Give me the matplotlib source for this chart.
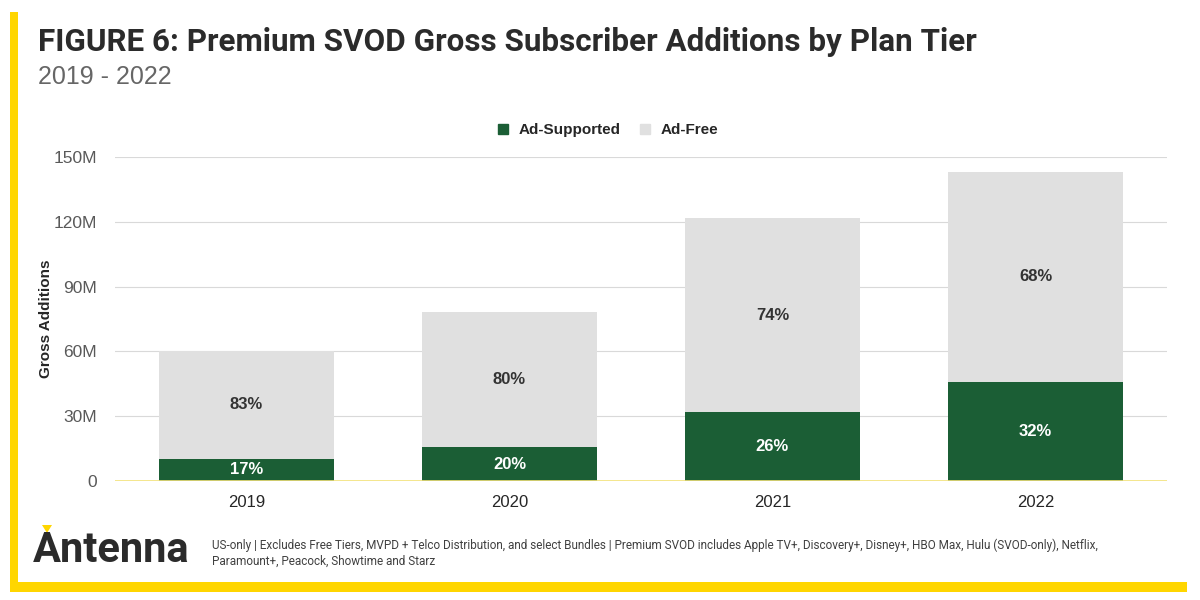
import matplotlib
matplotlib.use("Agg")
import matplotlib.pyplot as plt
from matplotlib.patches import Rectangle, Polygon
from matplotlib.lines import Line2D
from matplotlib import font_manager

# ---- data ----
years = ["2019", "2020", "2021", "2022"]
ad_supported = [10.2, 15.7, 31.8, 45.8]   # millions
ad_free = [50.0, 62.5, 90.0, 97.3]        # millions
ad_supported_pct = ["17%", "20%", "26%", "32%"]
ad_free_pct = ["83%", "80%", "74%", "68%"]
yticks = [0, 30, 60, 90, 120, 150]
ytick_labels = ["0", "30M", "60M", "90M", "120M", "150M"]

GREEN = "#1b5e35"
GRAY = "#e0e0e0"
YELLOW = "#ffd600"
DARK = "#262626"

names = {f.name for f in font_manager.fontManager.ttflist}
narrow = "Liberation Sans Narrow" if "Liberation Sans Narrow" in names else "Roboto"
plt.rcParams["font.family"] = ["Liberation Sans", "DejaVu Sans"]

fig = plt.figure(figsize=(12, 6), dpi=100)
fig.patch.set_facecolor("white")

# frame accents
fig.add_artist(Rectangle((10 / 1200, 1 - 592 / 600), 8 / 1200, 580 / 600,
                         transform=fig.transFigure, color=YELLOW, lw=0))
fig.add_artist(Rectangle((10 / 1200, 1 - 592 / 600), 1177 / 1200, 10 / 600,
                         transform=fig.transFigure, color=YELLOW, lw=0))

ax = fig.add_axes([115 / 1200, 1 - 481 / 600, 1052 / 1200, 324 / 600])
x = list(range(len(years)))
w = 0.665
ax.bar(x, ad_supported, width=w, color=GREEN, zorder=3, label="Ad-Supported")
ax.bar(x, ad_free, width=w, bottom=ad_supported, color=GRAY, zorder=3, label="Ad-Free")

for i in x:
    ax.text(i, ad_supported[i] / 2, ad_supported_pct[i], ha="center", va="center",
            color="white", fontsize=12, fontweight="bold", zorder=4)
    ax.text(i, ad_supported[i] + ad_free[i] / 2, ad_free_pct[i], ha="center",
            va="center", color="#333333", fontsize=12, fontweight="bold", zorder=4)

ax.set_xlim(-0.5, 3.5)
ax.set_ylim(0, 150)
ax.set_yticks(yticks)
ax.set_yticklabels(ytick_labels, fontsize=12.5, color="#595959")
ax.set_xticks(x)
ax.set_xticklabels(years, fontsize=12, color=DARK)
ax.tick_params(axis="both", length=0)
ax.tick_params(axis="y", pad=13)
ax.tick_params(axis="x", pad=10)
ax.grid(axis="y", color="#d9d9d9", lw=0.8, zorder=0)
for s in ax.spines.values():
    s.set_visible(False)
ax.axhline(0, color="#f3e27a", lw=1.2, zorder=5)
ax.set_ylabel("Gross Additions", fontsize=11, fontweight="bold", color=DARK)
ax.yaxis.set_label_coords(-0.059, 0.5)

handles = [Line2D([], [], marker="s", ls="", color=GREEN, markersize=7),
           Line2D([], [], marker="s", ls="", color=GRAY, markersize=7)]
fig.legend(handles, ["Ad-Supported", "Ad-Free"], loc="center",
           bbox_to_anchor=(603 / 1200, 1 - 130 / 600), ncol=2, frameon=False,
           prop={"size": 11, "weight": "bold"}, handletextpad=0.05,
           columnspacing=0.6, labelcolor=DARK)

# titles
fig.text(38 / 1200, 1 - 42 / 600, "FIGURE 6: Premium SVOD Gross Subscriber Additions by Plan Tier",
         fontsize=22.6, fontweight="bold", color="#2b2b2b", va="center", ha="left",
         family=[narrow, "DejaVu Sans"])
fig.text(38 / 1200, 1 - 77 / 600, "2019 - 2022", fontsize=18, color="#666666",
         va="center", ha="left")

# logo
fig.text(33 / 1200, 1 - 551 / 600, "Antenna", fontsize=30, fontweight="bold",
         color="#2b2b2b", va="center", ha="left", family=["Roboto", "DejaVu Sans"])
fig.add_artist(Polygon([(42 / 1200, 1 - 525 / 600), (52 / 1200, 1 - 525 / 600),
                        (47 / 1200, 1 - 533 / 600)], closed=True,
                       transform=fig.transFigure, color=YELLOW, lw=0))

fig.text(212 / 1200, 1 - 553 / 600,
         "US-only | Excludes Free Tiers, MVPD + Telco Distribution, and select Bundles | Premium SVOD includes Apple TV+, Discovery+, Disney+, HBO Max, Hulu (SVOD-only), Netflix,\nParamount+, Peacock, Showtime and Starz",
         fontsize=8.5, color="#404040", va="center", ha="left", linespacing=1.3,
         family=[narrow, "DejaVu Sans"])

fig.savefig("out.png", dpi=100, facecolor="white")
